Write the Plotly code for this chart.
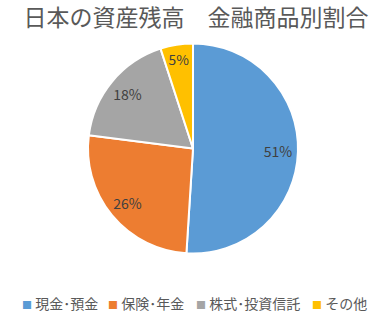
import plotly.graph_objects as go

categories = ["現金･預金", "保険･年金", "株式･投資信託", "その他"]
values = [51, 26, 18, 5]
colors = ["#5B9BD5", "#ED7D31", "#A5A5A5", "#FFC000"]
title_text = "日本の資産残高　金融商品別割合"

W, H = 392, 312
FONT = "Noto Sans CJK JP"
dom = dict(x=[88 / W, 298 / W], y=[1 - 253.5 / H, 1 - 43.5 / H])

# coloured slices
fig = go.Figure(go.Pie(
    labels=categories,
    values=values,
    sort=False,
    direction="clockwise",
    rotation=0,
    marker=dict(colors=colors, line=dict(color="white", width=2)),
    textinfo="none",
    domain=dom,
    showlegend=False,
    hoverinfo="label+percent",
))

# transparent ring carrying the percentage labels toward the rim
fig.add_trace(go.Pie(
    labels=categories,
    values=values,
    sort=False,
    direction="clockwise",
    rotation=0,
    hole=0.62,
    marker=dict(colors=["rgba(0,0,0,0)"] * len(values), line=dict(width=0)),
    texttemplate="%{value}%",
    textposition="inside",
    insidetextorientation="horizontal",
    textfont=dict(family=FONT, size=14, color="#404040"),
    domain=dom,
    showlegend=False,
    hoverinfo="skip",
))

# legend drawn as text entries beneath the pie
legend_x = [20, 106, 194, 310]
annotations = []
for name, col, lx in zip(categories, colors, legend_x):
    annotations.append(dict(
        text=f'<span style="color:{col};font-size:10px">■</span> {name}',
        x=lx / W, y=1 - 303 / H, xref="paper", yref="paper",
        xanchor="left", yanchor="middle", showarrow=False,
        font=dict(family=FONT, size=14, color="#595959"),
    ))

fig.update_layout(
    width=W, height=H,
    margin=dict(l=0, r=0, t=0, b=0, autoexpand=False),
    paper_bgcolor="white",
    plot_bgcolor="white",
    title=dict(text=title_text, x=0.5, xanchor="center", y=1 - 18 / H, yanchor="middle",
               font=dict(family=FONT, size=23, color="#595959")),
    annotations=annotations,
)

fig.write_html("out.html")
